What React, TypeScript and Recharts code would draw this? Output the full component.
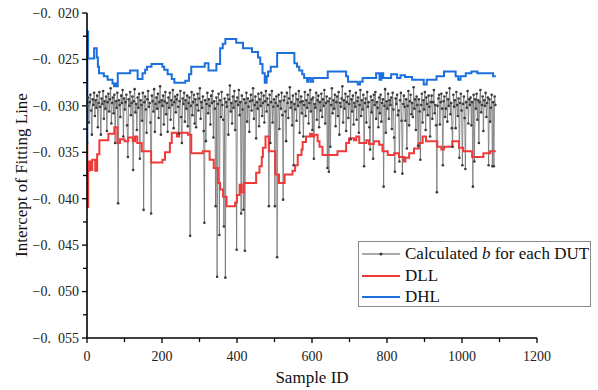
import React from "react";
import { LineChart, Line, XAxis, YAxis } from "recharts";

// Calculated intercept b per DUT, read every 2nd sample (sample id = 1 + 2 * i)
const SAMPLE_STEP = 2;
const bValues = [
  -0.0300, -0.0291, -0.0318, -0.0296, -0.0288, -0.0305, -0.0331, -0.0293, -0.0299, -0.0286,
  -0.0311, -0.0294, -0.0302, -0.0289, -0.0323, -0.0297, -0.0285, -0.0301, -0.0331, -0.0292,
  -0.0298, -0.0284, -0.0314, -0.0295, -0.0303, -0.0290, -0.0327, -0.0296, -0.0287, -0.0306,
  -0.0293, -0.0281, -0.0319, -0.0297, -0.0291, -0.0308, -0.0288, -0.0340, -0.0295, -0.0302,
  -0.0286, -0.0405, -0.0294, -0.0299, -0.0312, -0.0289, -0.0297, -0.0283, -0.0333, -0.0292,
  -0.0304, -0.0296, -0.0288, -0.0321, -0.0355, -0.0293, -0.0300, -0.0285, -0.0310, -0.0297,
  -0.0290, -0.0369, -0.0295, -0.0282, -0.0307, -0.0298, -0.0326, -0.0291, -0.0302, -0.0287,
  -0.0357, -0.0294, -0.0299, -0.0316, -0.0286, -0.0412, -0.0296, -0.0290, -0.0304, -0.0329,
  -0.0293, -0.0284, -0.0301, -0.0297, -0.0318, -0.0416, -0.0289, -0.0295, -0.0306, -0.0282,
  -0.0328, -0.0298, -0.0291, -0.0303, -0.0287, -0.0313, -0.0296, -0.0279, -0.0331, -0.0294,
  -0.0300, -0.0289, -0.0320, -0.0295, -0.0285, -0.0309, -0.0297, -0.0328, -0.0291, -0.0302,
  -0.0286, -0.0315, -0.0294, -0.0299, -0.0283, -0.0324, -0.0296, -0.0290, -0.0307, -0.0293,
  -0.0288, -0.0301, -0.0330, -0.0295, -0.0284, -0.0312, -0.0340, -0.0292, -0.0298, -0.0286,
  -0.0317, -0.0294, -0.0303, -0.0289, -0.0322, -0.0297, -0.0291, -0.0440, -0.0300, -0.0285,
  -0.0310, -0.0296, -0.0288, -0.0319, -0.0293, -0.0323, -0.0299, -0.0287, -0.0305, -0.0292,
  -0.0281, -0.0314, -0.0296, -0.0302, -0.0290, -0.0327, -0.0426, -0.0294, -0.0338, -0.0298,
  -0.0286, -0.0308, -0.0293, -0.0300, -0.0320, -0.0289, -0.0297, -0.0284, -0.0334, -0.0295,
  -0.0303, -0.0408, -0.0291, -0.0484, -0.0298, -0.0287, -0.0439, -0.0294, -0.0312, -0.0285,
  -0.0299, -0.0315, -0.0430, -0.0292, -0.0485, -0.0296, -0.0301, -0.0288, -0.0331, -0.0293,
  -0.0278, -0.0306, -0.0297, -0.0319, -0.0290, -0.0302, -0.0284, -0.0326, -0.0295, -0.0455,
  -0.0291, -0.0299, -0.0283, -0.0310, -0.0296, -0.0416, -0.0289, -0.0304, -0.0412, -0.0293,
  -0.0456, -0.0297, -0.0286, -0.0317, -0.0292, -0.0301, -0.0328, -0.0295, -0.0288, -0.0305,
  -0.0294, -0.0281, -0.0314, -0.0299, -0.0290, -0.0335, -0.0296, -0.0303, -0.0287, -0.0322,
  -0.0293, -0.0300, -0.0286, -0.0311, -0.0297, -0.0289, -0.0318, -0.0295, -0.0284, -0.0306,
  -0.0292, -0.0299, -0.0408, -0.0288, -0.0340, -0.0296, -0.0284, -0.0318, -0.0301, -0.0293,
  -0.0408, -0.0297, -0.0290, -0.0463, -0.0300, -0.0288, -0.0325, -0.0295, -0.0303, -0.0286,
  -0.0310, -0.0401, -0.0294, -0.0290, -0.0306, -0.0338, -0.0286, -0.0297, -0.0313, -0.0292,
  -0.0280, -0.0302, -0.0296, -0.0321, -0.0289, -0.0364, -0.0298, -0.0304, -0.0287, -0.0316,
  -0.0293, -0.0300, -0.0284, -0.0329, -0.0296, -0.0290, -0.0308, -0.0295, -0.0333, -0.0299,
  -0.0285, -0.0311, -0.0294, -0.0302, -0.0288, -0.0319, -0.0297, -0.0283, -0.0306, -0.0293,
  -0.0326, -0.0291, -0.0357, -0.0298, -0.0302, -0.0286, -0.0315, -0.0294, -0.0289, -0.0323,
  -0.0296, -0.0305, -0.0287, -0.0312, -0.0293, -0.0300, -0.0283, -0.0319, -0.0297, -0.0290,
  -0.0367, -0.0295, -0.0371, -0.0292, -0.0344, -0.0299, -0.0281, -0.0308, -0.0294, -0.0303,
  -0.0288, -0.0322, -0.0296, -0.0290, -0.0311, -0.0285, -0.0331, -0.0297, -0.0301, -0.0292,
  -0.0279, -0.0318, -0.0294, -0.0303, -0.0287, -0.0327, -0.0296, -0.0290, -0.0313, -0.0298,
  -0.0284, -0.0336, -0.0293, -0.0306, -0.0289, -0.0320, -0.0297, -0.0301, -0.0286, -0.0315,
  -0.0295, -0.0291, -0.0329, -0.0299, -0.0283, -0.0311, -0.0294, -0.0304, -0.0288, -0.0365,
  -0.0297, -0.0292, -0.0318, -0.0285, -0.0301, -0.0296, -0.0323, -0.0347, -0.0290, -0.0307,
  -0.0294, -0.0357, -0.0288, -0.0299, -0.0285, -0.0314, -0.0296, -0.0302, -0.0323, -0.0291,
  -0.0308, -0.0288, -0.0317, -0.0297, -0.0293, -0.0387, -0.0300, -0.0282, -0.0329, -0.0295,
  -0.0303, -0.0287, -0.0314, -0.0294, -0.0299, -0.0291, -0.0325, -0.0286, -0.0304, -0.0334,
  -0.0371, -0.0292, -0.0298, -0.0288, -0.0310, -0.0305, -0.0360, -0.0294, -0.0286, -0.0316,
  -0.0373, -0.0298, -0.0289, -0.0301, -0.0316, -0.0293, -0.0346, -0.0300, -0.0284, -0.0321,
  -0.0295, -0.0288, -0.0309, -0.0297, -0.0312, -0.0280, -0.0303, -0.0293, -0.0326, -0.0290,
  -0.0299, -0.0343, -0.0293, -0.0306, -0.0358, -0.0299, -0.0287, -0.0318, -0.0294, -0.0304,
  -0.0285, -0.0326, -0.0291, -0.0298, -0.0310, -0.0289, -0.0301, -0.0333, -0.0296, -0.0289,
  -0.0314, -0.0296, -0.0283, -0.0308, -0.0299, -0.0321, -0.0393, -0.0300, -0.0292, -0.0288,
  -0.0320, -0.0296, -0.0287, -0.0303, -0.0364, -0.0295, -0.0290, -0.0312, -0.0303, -0.0286,
  -0.0317, -0.0293, -0.0300, -0.0281, -0.0309, -0.0297, -0.0324, -0.0344, -0.0288, -0.0301,
  -0.0294, -0.0324, -0.0285, -0.0299, -0.0311, -0.0292, -0.0356, -0.0297, -0.0287, -0.0305,
  -0.0364, -0.0298, -0.0290, -0.0313, -0.0368, -0.0296, -0.0302, -0.0284, -0.0319, -0.0293,
  -0.0299, -0.0291, -0.0321, -0.0296, -0.0387, -0.0288, -0.0360, -0.0293, -0.0303, -0.0287,
  -0.0315, -0.0294, -0.0340, -0.0296, -0.0283, -0.0307, -0.0299, -0.0290, -0.0327, -0.0294,
  -0.0300, -0.0286, -0.0312, -0.0297, -0.0291, -0.0364, -0.0293, -0.0317, -0.0302, -0.0288,
  -0.0365, -0.0296, -0.0365, -0.0290, -0.0299,
];

// DLL step line: sample id where each level starts, and the level
const dllIds = [
  0, 1, 3, 6, 10, 14, 22, 27, 33, 57, 73, 81, 88, 100, 110, 122, 128, 134, 146, 171,
  201, 208, 221, 226, 240, 246, 269, 278, 309, 327, 338, 349, 355, 363, 372, 395, 400, 407, 412, 418,
  451, 460, 466, 469, 476, 485, 502, 512, 527, 548, 555, 562, 572, 575, 584, 595, 600, 606, 615, 620,
  628, 668, 691, 699, 712, 718, 726, 745, 752, 765, 779, 788, 802, 819, 832, 845, 849, 859, 872, 885,
  895, 904, 934, 945, 952, 974, 992, 1003, 1027, 1057, 1075, 1090,
];
const dllValues = [
  -0.0340, -0.0409, -0.0370, -0.0360, -0.0369, -0.0358, -0.0370, -0.0352, -0.0337, -0.0330, -0.0323, -0.0340, -0.0336, -0.0338, -0.0334, -0.0338, -0.0333, -0.0340, -0.0349, -0.0361,
  -0.0358, -0.0350, -0.0340, -0.0329, -0.0333, -0.0329, -0.0331, -0.0351, -0.0349, -0.0358, -0.0367, -0.0383, -0.0390, -0.0398, -0.0408, -0.0404, -0.0396, -0.0385, -0.0393, -0.0383,
  -0.0372, -0.0365, -0.0355, -0.0345, -0.0333, -0.0349, -0.0374, -0.0383, -0.0374, -0.0370, -0.0364, -0.0353, -0.0347, -0.0339, -0.0333, -0.0330, -0.0333, -0.0331, -0.0338, -0.0344,
  -0.0353, -0.0349, -0.0340, -0.0335, -0.0337, -0.0333, -0.0340, -0.0337, -0.0341, -0.0338, -0.0342, -0.0349, -0.0353, -0.0351, -0.0355, -0.0360, -0.0356, -0.0351, -0.0346, -0.0340,
  -0.0333, -0.0338, -0.0344, -0.0347, -0.0344, -0.0338, -0.0345, -0.0349, -0.0355, -0.0351, -0.0349, -0.0349,
];

// DHL step line
const dhlIds = [
  0, 1, 3, 19, 22, 26, 29, 32, 45, 55, 68, 72, 75, 78, 82, 115, 135, 148, 155, 160,
  172, 201, 206, 215, 226, 233, 262, 272, 278, 314, 324, 345, 355, 362, 369, 398, 416, 440, 456, 462,
  468, 474, 479, 483, 490, 507, 553, 560, 566, 574, 579, 587, 591, 597, 603, 642, 691, 696, 722, 728,
  735, 771, 780, 785, 790, 811, 827, 836, 848, 867, 898, 906, 932, 952, 983, 990, 996, 1010, 1025, 1041,
  1083, 1090,
];
const dhlValues = [
  -0.0340, -0.0220, -0.0249, -0.0238, -0.0238, -0.0248, -0.0258, -0.0265, -0.0268, -0.0272, -0.0276, -0.0279, -0.0276, -0.0279, -0.0265, -0.0262, -0.0271, -0.0265, -0.0261, -0.0258,
  -0.0255, -0.0258, -0.0261, -0.0266, -0.0271, -0.0275, -0.0273, -0.0266, -0.0258, -0.0254, -0.0262, -0.0255, -0.0238, -0.0233, -0.0228, -0.0232, -0.0238, -0.0242, -0.0248, -0.0255,
  -0.0265, -0.0275, -0.0268, -0.0263, -0.0258, -0.0243, -0.0254, -0.0258, -0.0262, -0.0266, -0.0270, -0.0274, -0.0270, -0.0274, -0.0270, -0.0263, -0.0268, -0.0274, -0.0277, -0.0274,
  -0.0270, -0.0265, -0.0272, -0.0265, -0.0270, -0.0266, -0.0270, -0.0267, -0.0269, -0.0272, -0.0277, -0.0272, -0.0268, -0.0263, -0.0268, -0.0272, -0.0268, -0.0265, -0.0263, -0.0265,
  -0.0268, -0.0268,
];

const xTicks = [0, 100, 200, 300, 400, 500, 600, 700, 800, 900, 1000, 1100, 1200];
const yTicks = [-0.055, -0.0525, -0.05, -0.0475, -0.045, -0.0425, -0.04, -0.0375, -0.035, -0.0325, -0.03, -0.0275, -0.025, -0.0225, -0.02];

const bData = bValues.map((v, i) => ({ x: 1 + SAMPLE_STEP * i, y: v }));
const dllData = dllIds.map((id, i) => ({ x: id, y: dllValues[i] }));
const dhlData = dhlIds.map((id, i) => ({ x: id, y: dhlValues[i] }));

const FONT = "'Liberation Serif', 'Times New Roman', serif";
const RED = "#f03a3a";
const BLUE = "#1c6fdc";

const isMinorY = (v: number) => Math.abs(Math.round(v * 2000)) % 2 === 1;
const fmtY = (v: number) => "\u22120.\u2002" + String(Math.round(-v * 1000)).padStart(3, "0");

const YTick = ({ x, y, payload }: any) => {
  const minor = isMinorY(payload.value);
  const axisX = x + 8;
  return (
    <g>
      <line x1={axisX - (minor ? 4 : 5)} x2={axisX} y1={y} y2={y} stroke="#000" strokeWidth={1.3} />
      {!minor && (
        <text x={x} y={y} dy="0.35em" textAnchor="end" style={{ fontFamily: FONT, fontSize: 14, fill: "#222" }}>
          {fmtY(payload.value)}
        </text>
      )}
    </g>
  );
};

const XTick = ({ x, y, payload }: any) => {
  const minor = payload.value % 200 !== 0;
  const axisY = y - 13;
  return (
    <g>
      <line x1={x} x2={x} y1={axisY} y2={axisY + (minor ? 4 : 5)} stroke="#000" strokeWidth={1.3} />
      {!minor && (
        <text x={x} y={y} dy="0.71em" textAnchor="middle" style={{ fontFamily: FONT, fontSize: 14, fill: "#222" }}>
          {payload.value}
        </text>
      )}
    </g>
  );
};

export default function App() {
  return (
    <div style={{ position: "fixed", left: 0, top: 0, width: 598, height: 390, background: "#fff", fontFamily: FONT }}>
      <LineChart width={598} height={390} margin={{ top: 13, right: 61, bottom: 22, left: 0 }} style={{ fontFamily: FONT }}>
        <XAxis
          type="number"
          dataKey="x"
          domain={[0, 1200]}
          ticks={xTicks}
          interval={0}
          allowDataOverflow
          height={30}
          tickSize={5}
          tickMargin={8}
          tickLine={false}
          tick={<XTick />}
          axisLine={{ stroke: "#000", strokeWidth: 1.6 }}
        />
        <YAxis
          type="number"
          dataKey="y"
          domain={[-0.055, -0.02]}
          ticks={yTicks}
          interval={0}
          allowDataOverflow
          width={87}
          tickSize={5}
          tickMargin={3}
          tickLine={false}
          tick={<YTick />}
          axisLine={{ stroke: "#000", strokeWidth: 1.6 }}
        />
        <Line
          data={bData}
          dataKey="y"
          type="linear"
          stroke="#6e6e6e"
          strokeWidth={0.75}
          dot={{ r: 1.3, fill: "#3a3a3a", stroke: "none" }}
          isAnimationActive={false}
        />
        <Line data={dllData} dataKey="y" type="stepAfter" stroke={RED} strokeWidth={2} dot={false} isAnimationActive={false} />
        <Line data={dhlData} dataKey="y" type="stepAfter" stroke={BLUE} strokeWidth={2} dot={false} isAnimationActive={false} />
      </LineChart>

      <div style={{ position: "absolute", left: 22, top: 175, transform: "translate(-50%, -50%) rotate(-90deg)", fontSize: 17, whiteSpace: "nowrap", color: "#111" }}>
        Intercept of Fitting Line
      </div>
      <div style={{ position: "absolute", left: 312, top: 378, transform: "translate(-50%, -50%)", fontSize: 17, whiteSpace: "nowrap", color: "#111" }}>
        Sample ID
      </div>

      <div style={{ position: "absolute", left: 358, top: 241, width: 231, height: 64, border: "1px solid #8a8a8a", background: "#fff", fontSize: 17, color: "#111" }}>
        {[
          { label: <span>Calculated <i>b</i> for each DUT</span>, color: "#555", width: 1, dot: true },
          { label: <span>DLL</span>, color: RED, width: 2, dot: false },
          { label: <span>DHL</span>, color: BLUE, width: 2, dot: false },
        ].map((item, i) => (
          <div key={i} style={{ position: "absolute", left: 2, top: 2 + i * 21.5, height: 20, display: "flex", alignItems: "center", whiteSpace: "nowrap" }}>
            <svg width={40} height={20} style={{ marginRight: 4 }}>
              <line x1={1} x2={39} y1={10} y2={10} stroke={item.color} strokeWidth={item.width} />
              {item.dot && <circle cx={20} cy={10} r={1.5} fill="#333" />}
            </svg>
            {item.label}
          </div>
        ))}
      </div>
    </div>
  );
}
